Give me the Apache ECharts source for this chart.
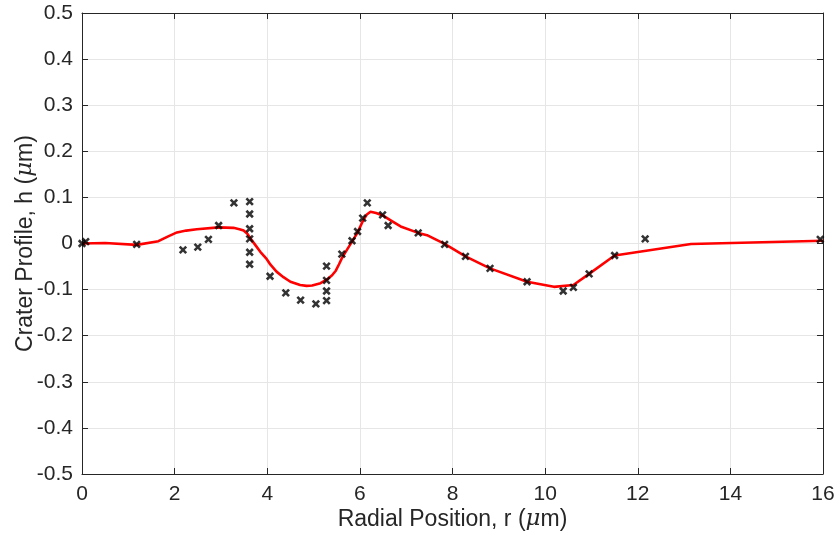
<!DOCTYPE html>
<html>
<head>
<meta charset="utf-8">
<script src="https://cdn.jsdelivr.net/npm/echarts@6/dist/echarts.min.js"></script>
<style>html,body{margin:0;padding:0;background:#fff}#c{width:840px;height:537px}</style>
</head>
<body>
<div id="c"></div>
<script>
// Measured points (x markers)
const measX = [0, 0.08, 1.18, 2.18, 2.50, 2.73, 2.95, 3.28, 3.62, 3.62, 3.62, 3.62, 3.62, 3.62, 4.06, 4.40, 4.72, 5.05, 5.28, 5.28, 5.28, 5.28, 5.61, 5.83, 5.95, 6.06, 6.16, 6.49, 6.61, 7.26, 7.83, 8.28, 8.81, 9.61, 10.39, 10.61, 10.95, 11.50, 12.16, 15.94];
const measY = [0, 0.004, -0.002, -0.014, -0.008, 0.009, 0.039, 0.088, 0.091, 0.064, 0.032, 0.010, -0.019, -0.045, -0.071, -0.107, -0.123, -0.131, -0.049, -0.080, -0.103, -0.124, -0.023, 0.006, 0.026, 0.055, 0.088, 0.062, 0.039, 0.023, -0.002, -0.028, -0.054, -0.083, -0.103, -0.095, -0.066, -0.026, 0.010, 0.009];
// Fitted profile (red line)
const fitX = [0, 0.5, 1.18, 1.65, 1.85, 2.05, 2.25, 2.48, 2.95, 3.27, 3.40, 3.49, 3.57, 3.63, 3.74, 3.85, 3.99, 4.07, 4.20, 4.35, 4.50, 4.71, 4.85, 4.97, 5.15, 5.29, 5.40, 5.48, 5.55, 5.62, 5.78, 5.94, 6.08, 6.15, 6.23, 6.35, 6.51, 6.70, 6.88, 7.26, 7.45, 7.83, 8.28, 8.81, 9.61, 10.19, 10.61, 10.95, 11.50, 13.15, 16.0];
const fitY = [0, 0.001, -0.003, 0.005, 0.015, 0.024, 0.028, 0.031, 0.035, 0.034, 0.031, 0.028, 0.021, 0.012, -0.003, -0.018, -0.034, -0.046, -0.061, -0.073, -0.083, -0.090, -0.092, -0.091, -0.086, -0.078, -0.069, -0.059, -0.045, -0.030, -0.004, 0.022, 0.052, 0.063, 0.069, 0.066, 0.060, 0.048, 0.037, 0.023, 0.018, -0.001, -0.028, -0.054, -0.083, -0.094, -0.090, -0.066, -0.026, -0.001, 0.006];

const FONT = '"Liberation Sans", Arial, Helvetica, sans-serif';
const TXT = '#262626';
const chart = echarts.init(document.getElementById('c'), null, {renderer: 'canvas'});
const common = {
  axisLine: {show: true, onZero: false, lineStyle: {color: TXT, width: 1}},
  axisTick: {show: true, inside: true, length: 6, lineStyle: {color: TXT, width: 1}},
};
const rich = (sz) => ({
  a: {fontFamily: FONT, fontSize: sz, color: TXT},
  b: {fontFamily: '"DejaVu Serif", serif', fontStyle: 'italic', fontSize: sz, color: TXT}
});
chart.setOption({
  animation: false,
  backgroundColor: '#fff',
  grid: {left: 82, right: 17, top: 13, bottom: 63, containLabel: false, outerBoundsMode: 'none'},
  xAxis: [{
    type: 'value', min: 0, max: 16, interval: 2, position: 'bottom',
    ...common,
    axisLabel: {fontFamily: FONT, fontSize: 21, color: TXT, margin: 10},
    splitLine: {show: true, lineStyle: {color: '#e6e6e6', width: 1}},
    name: '{a|Radial Position, r (}{b|μ}{a|m)}', nameLocation: 'middle', nameGap: 34,
    nameMoveOverlap: false,
    nameTextStyle: {rich: rich(23)}
  }, {
    type: 'value', min: 0, max: 16, interval: 2, position: 'top',
    ...common, axisLabel: {show: false}, splitLine: {show: false}
  }],
  yAxis: [{
    type: 'value', min: -0.5, max: 0.5, interval: 0.1, position: 'left',
    ...common,
    axisLabel: {fontFamily: FONT, fontSize: 21, color: TXT, margin: 9,
      formatter: v => { const r = Math.round(v * 10) / 10; return r === 0 ? '0' : r.toFixed(1); }},
    splitLine: {show: true, lineStyle: {color: '#e6e6e6', width: 1}},
    name: '{a|Crater Profile, h (}{b|μ}{a|m)}', nameLocation: 'middle', nameGap: 45, nameRotate: 90,
    nameMoveOverlap: false,
    nameTextStyle: {rich: rich(23)}
  }, {
    type: 'value', min: -0.5, max: 0.5, interval: 0.1, position: 'right',
    ...common, axisLabel: {show: false}, splitLine: {show: false}
  }],
  series: [{
    type: 'line', xAxisIndex: 0, yAxisIndex: 0,
    data: fitX.map((x, i) => [x, fitY[i]]),
    showSymbol: false, smooth: false,
    lineStyle: {color: '#ff0000', width: 2.6, join: 'round'}, z: 2
  }, {
    type: 'scatter', xAxisIndex: 0, yAxisIndex: 0,
    data: measX.map((x, i) => [x, measY[i]]),
    symbol: 'path://M0,0L10,10M10,0L0,10', symbolSize: 6.5,
    itemStyle: {color: 'transparent', borderColor: '#000', borderWidth: 2.6}, z: 3
  }]
});
</script>
</body>
</html>
